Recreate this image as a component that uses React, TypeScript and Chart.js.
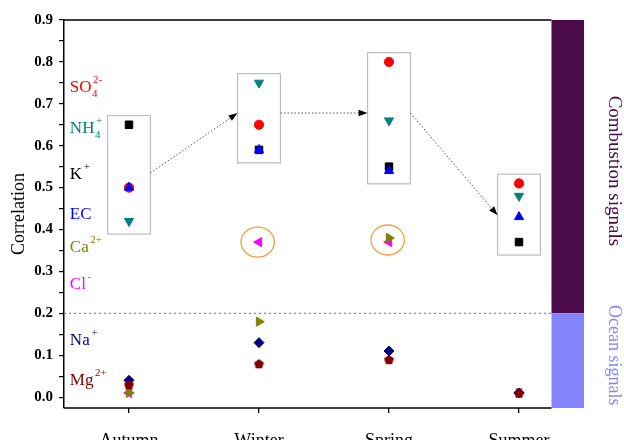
import React, { useEffect, useRef } from "react";
import { Chart, registerables } from "chart.js";

Chart.register(...registerables);

// ---- data ----
const seasons = ["Autumn", "Winter", "Spring", "Summer"];
const so4 = [0.5, 0.65, 0.8, 0.51];
const nh4 = [0.42, 0.75, 0.66, 0.48];
const kPlus = [0.65, 0.59, 0.55, 0.37];
const ec = [0.5, 0.59, 0.54, 0.43];
const cl = [0.01, 0.37, 0.37, 0.01];
const ca = [0.01, 0.18, 0.38, 0.01];
const na = [0.04, 0.13, 0.11, 0.01];
const mg = [0.03, 0.08, 0.09, 0.01];
const yTickValues = [0, 0.05, 0.1, 0.15, 0.2, 0.25, 0.3, 0.35, 0.4, 0.45, 0.5, 0.55, 0.6, 0.65, 0.7, 0.75, 0.8, 0.85, 0.9];
const yTickLabels = ["0.0", "", "0.1", "", "0.2", "", "0.3", "", "0.4", "", "0.5", "", "0.6", "", "0.7", "", "0.8", "", "0.9"];
const ionNames = ["SO4 2-", "NH4 +", "K +", "EC", "Ca 2+", "Cl -", "Na +", "Mg 2+"];
const signalNames = ["Combustion signals", "Ocean signals"];
const yAxisTitle = "Correlation";
const signalThreshold = 0.2;

const colors = {
  so4: "#ff0000",
  nh4: "#008080",
  k: "#000000",
  ec: "#0000ff",
  ca: "#808000",
  cl: "#ff00ff",
  na: "#000080",
  mg: "#800000",
};

function makePentagon(color: string, size: number) {
  const c = document.createElement("canvas");
  c.width = size;
  c.height = size;
  const ctx = c.getContext("2d")!;
  const r = size / 2 - 0.3;
  ctx.beginPath();
  for (let i = 0; i < 5; i++) {
    const a = -Math.PI / 2 + (i * 2 * Math.PI) / 5;
    const px = size / 2 + r * Math.cos(a);
    const py = size / 2 + 0.6 + r * Math.sin(a);
    if (i === 0) ctx.moveTo(px, py);
    else ctx.lineTo(px, py);
  }
  ctx.closePath();
  ctx.fillStyle = color;
  ctx.fill();
  return c;
}

const SERIF = "'Liberation Serif', 'Times New Roman', serif";

const overlayPlugin = {
  id: "overlay",
  beforeDatasetsDraw(chart: any) {
    const { ctx, chartArea, scales } = chart;
    const xs = scales.x;
    const ys = scales.y;
    const barL = xs.getPixelForValue(4.25);
    const barR = chartArea.right;
    const yThr = ys.getPixelForValue(signalThreshold);
    ctx.save();
    // signal bars
    ctx.fillStyle = "#4a0a4c";
    ctx.fillRect(barL, chartArea.top, barR - barL, yThr - chartArea.top);
    ctx.fillStyle = "#8585fb";
    ctx.fillRect(barL, yThr, barR - barL, chartArea.bottom - yThr);
    // threshold dotted line
    ctx.strokeStyle = "#8a8a8a";
    ctx.lineWidth = 1.2;
    ctx.setLineDash([2, 3]);
    ctx.beginPath();
    ctx.moveTo(chartArea.left, yThr);
    ctx.lineTo(barL, yThr);
    ctx.stroke();
    ctx.setLineDash([]);

    // boxes around combustion groups
    const groups = [so4, nh4, kPlus, ec];
    const boxHalf = 0.165;
    const boxes = seasons.map((_, i) => {
      const vals = groups.map((g) => g[i]);
      const top = Math.max(...vals) + 0.022;
      const bot = Math.min(...vals) - 0.031;
      const l = xs.getPixelForValue(i + 1 - boxHalf);
      const r = xs.getPixelForValue(i + 1 + boxHalf);
      const t = ys.getPixelForValue(top);
      const b = ys.getPixelForValue(bot);
      return { l, r, t, b };
    });
    ctx.strokeStyle = "#bdbdbd";
    ctx.lineWidth = 1.2;
    boxes.forEach((bx) => ctx.strokeRect(bx.l, bx.t, bx.r - bx.l, bx.b - bx.t));

    // ellipses (Cl / Ca in winter & spring)
    ctx.strokeStyle = "#f0a040";
    ctx.lineWidth = 1.3;
    [
      { x: 2 - 0.01, y: cl[1] },
      { x: 3 - 0.01, y: (cl[2] + ca[2]) / 2 },
    ].forEach((e) => {
      ctx.beginPath();
      ctx.ellipse(xs.getPixelForValue(e.x), ys.getPixelForValue(e.y), 16.7, 15, 0, 0, Math.PI * 2);
      ctx.stroke();
    });

    // arrows
    const arrows = [
      { x1: boxes[0].r, y1: ys.getPixelForValue(0.535), x2: boxes[1].l, y2: ys.getPixelForValue(0.678) },
      { x1: boxes[1].r, y1: ys.getPixelForValue(0.678), x2: boxes[2].l, y2: ys.getPixelForValue(0.678) },
      { x1: boxes[2].r, y1: ys.getPixelForValue(0.678), x2: boxes[3].l, y2: ys.getPixelForValue(0.434) },
    ];
    arrows.forEach((a) => {
      const ang = Math.atan2(a.y2 - a.y1, a.x2 - a.x1);
      const hl = 9;
      const hw = 3.2;
      const bx = a.x2 - hl * Math.cos(ang);
      const by = a.y2 - hl * Math.sin(ang);
      ctx.strokeStyle = "#555";
      ctx.lineWidth = 1;
      ctx.setLineDash([1.5, 2]);
      ctx.beginPath();
      ctx.moveTo(a.x1, a.y1);
      ctx.lineTo(bx, by);
      ctx.stroke();
      ctx.setLineDash([]);
      ctx.fillStyle = "#000";
      ctx.beginPath();
      ctx.moveTo(a.x2, a.y2);
      ctx.lineTo(bx - hw * Math.sin(ang), by + hw * Math.cos(ang));
      ctx.lineTo(bx + hw * Math.sin(ang), by - hw * Math.cos(ang));
      ctx.closePath();
      ctx.fill();
    });

    // frame lines (top and bottom axis)
    ctx.strokeStyle = "#000";
    ctx.lineWidth = 1.5;
    ctx.beginPath();
    ctx.moveTo(chartArea.left, chartArea.top);
    ctx.lineTo(barL, chartArea.top);
    ctx.moveTo(chartArea.left, chartArea.bottom);
    ctx.lineTo(barL, chartArea.bottom);
    ctx.stroke();
    ctx.restore();
  },
  afterDraw(chart: any) {
    const { ctx, chartArea, scales } = chart;
    const xs = scales.x;
    const ys = scales.y;
    ctx.save();
    // ion labels on the left
    const labelColors = [colors.so4, colors.nh4, colors.k, colors.ec, colors.ca, colors.cl, colors.na, colors.mg];
    const labelY = [0.729, 0.631, 0.52, 0.424, 0.347, 0.259, 0.124, 0.029];
    const lx = xs.getPixelForValue(0.545);
    ionNames.forEach((name, i) => {
      const parts = name.split(" ");
      const base = parts[0];
      const sup = parts[1] || "";
      let main = base;
      let sub = "";
      if (/\d$/.test(base)) {
        main = base.slice(0, -1);
        sub = base.slice(-1);
      }
      const y = ys.getPixelForValue(labelY[i]);
      ctx.fillStyle = labelColors[i];
      ctx.textBaseline = "alphabetic";
      ctx.textAlign = "left";
      ctx.font = `17px ${SERIF}`;
      ctx.fillText(main, lx, y);
      const w = ctx.measureText(main).width;
      ctx.font = `11px ${SERIF}`;
      if (sub) ctx.fillText(sub, lx + w + 0.5, y + 5);
      if (sup) ctx.fillText(sup, lx + w + 1.5, y - 9);
    });

    // signal labels on the right
    const tx = chartArea.right + 30;
    const drawRot = (text: string, color: string, yMid: number, size: number) => {
      ctx.save();
      ctx.translate(tx, yMid);
      ctx.rotate(Math.PI / 2);
      ctx.fillStyle = color;
      ctx.font = `${size}px ${SERIF}`;
      ctx.textAlign = "center";
      ctx.textBaseline = "middle";
      ctx.fillText(text, 0, 0);
      ctx.restore();
    };
    drawRot(signalNames[0], "#4a0a4c", ys.getPixelForValue(0.54), 19);
    drawRot(signalNames[1], "#8585fb", ys.getPixelForValue(0.1), 18);
    ctx.restore();
  },
};

export default function App() {
  const ref = useRef<HTMLCanvasElement>(null);
  useEffect(() => {
    const pent = makePentagon(colors.mg, 11);
    const mk = (label: string, arr: number[], color: string, style: any, radius: number, rotation = 0) => ({
      label,
      data: arr.map((v, i) => ({ x: i + 1, y: v })),
      pointStyle: style,
      pointRadius: radius,
      pointRotation: rotation,
      backgroundColor: color,
      borderColor: color,
      pointBorderWidth: 1,
      showLine: false,
    });
    // draw order (first drawn at the bottom)
    const drawOrder = [
      mk(ionNames[0], so4, colors.so4, "circle", 4.6),
      mk(ionNames[1], nh4, colors.nh4, "triangle", 5.3, 180),
      mk(ionNames[2], kPlus, colors.k, "rect", 5.3),
      mk(ionNames[3], ec, colors.ec, "triangle", 5.3),
      mk(ionNames[5], cl, colors.cl, "triangle", 5.3, 270),
      mk(ionNames[4], ca, colors.ca, "triangle", 5.3, 90),
      mk(ionNames[6], na, colors.na, "rectRot", 5),
      mk(ionNames[7], mg, colors.mg, pent, 5),
    ];
    const datasets = drawOrder.slice().reverse();

    const chart = new Chart(ref.current!, {
      type: "scatter",
      data: { datasets },
      plugins: [overlayPlugin],
      options: {
        animation: false,
        responsive: false,
        devicePixelRatio: 1,
        layout: { padding: { left: 0, top: 20, right: 40, bottom: 0 }, autoPadding: false },
        plugins: { legend: { display: false }, tooltip: { enabled: false } },
        scales: {
          x: {
            type: "linear",
            min: 0.5,
            max: 4.5,
            afterBuildTicks: (s: any) => {
              s.ticks = seasons.map((_, i) => ({ value: i + 1 }));
            },
            afterFit: (s: any) => {
              s.height = 32;
            },
            border: { display: false },
            grid: { drawOnChartArea: false, drawTicks: true, tickLength: 5, color: "#000", lineWidth: 1.3 },
            ticks: {
              autoSkip: false,
              maxRotation: 0,
              padding: 17,
              color: "#000",
              font: { family: SERIF, size: 18 },
              callback: (v: any) => seasons[Math.round(v) - 1] ?? "",
            },
          },
          y: {
            type: "linear",
            min: -0.026,
            max: 0.9,
            afterBuildTicks: (s: any) => {
              s.ticks = yTickValues.map((v) => ({ value: v }));
            },
            afterFit: (s: any) => {
              s.width = 64;
            },
            border: { display: true, color: "#000", width: 1.5 },
            grid: { drawOnChartArea: false, drawTicks: true, tickLength: 5, color: "#000", lineWidth: 1.2 },
            title: {
              display: true,
              text: yAxisTitle,
              color: "#000",
              font: { family: SERIF, size: 18 },
              padding: { top: 8, bottom: 0 },
            },
            ticks: {
              autoSkip: false,
              padding: 6,
              color: "#000",
              font: { family: SERIF, size: 15, weight: "bold" },
              callback: (_v: any, i: number) => yTickLabels[i] ?? "",
            },
          },
        },
      },
    } as any);
    return () => chart.destroy();
  }, []);
  return (
    <div style={{ position: "fixed", left: 0, top: 0, width: 624, height: 440, background: "#fff" }}>
      <canvas ref={ref} width={624} height={440} style={{ display: "block" }} />
    </div>
  );
}
